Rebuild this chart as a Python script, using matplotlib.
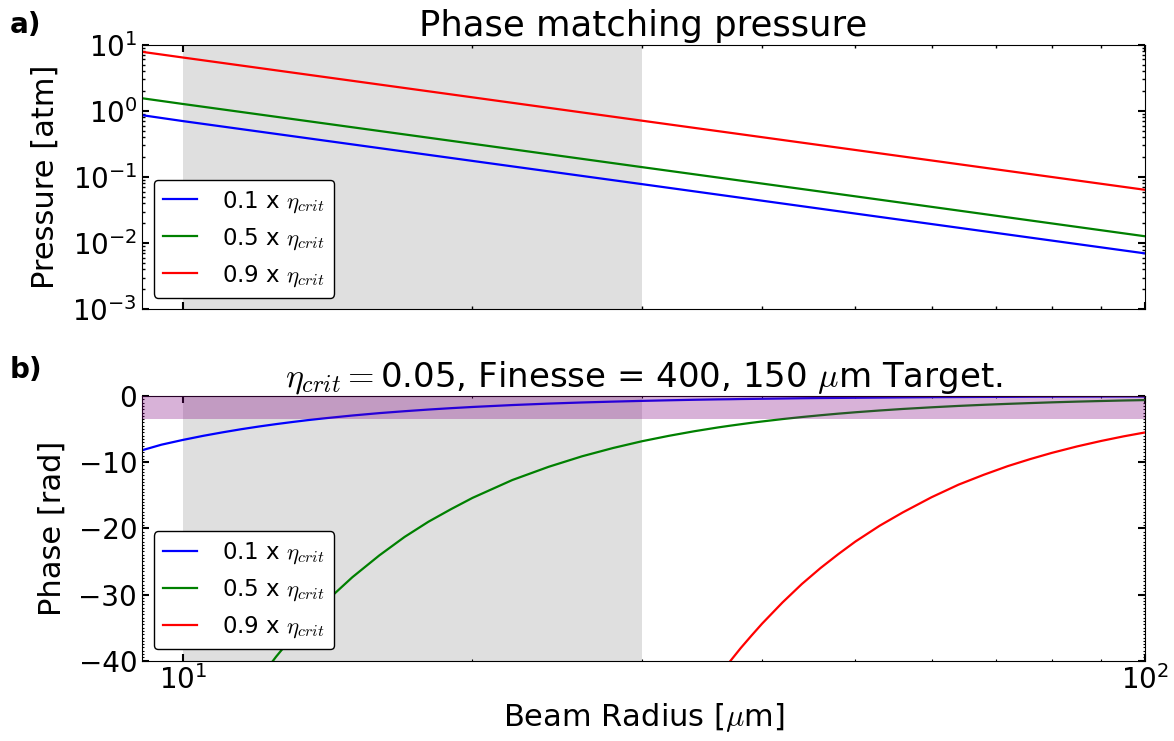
import numpy as np
import matplotlib
matplotlib.use("Agg")
import matplotlib.pyplot as plt
from matplotlib.ticker import LogLocator, MultipleLocator, FixedLocator, NullFormatter

plt.rcParams['font.family'] = 'DejaVu Sans'
plt.rcParams['mathtext.fontset'] = 'cm'
plt.rcParams['xtick.direction'] = 'in'
plt.rcParams['ytick.direction'] = 'in'
plt.rcParams['xtick.top'] = True
plt.rcParams['ytick.right'] = True
plt.rcParams['xtick.major.size'] = 5
plt.rcParams['ytick.major.size'] = 5
plt.rcParams['xtick.major.width'] = 1.5
plt.rcParams['ytick.major.width'] = 1.5
plt.rcParams['xtick.minor.size'] = 2.5
plt.rcParams['ytick.minor.size'] = 2.5
plt.rcParams['xtick.minor.width'] = 1
plt.rcParams['ytick.minor.width'] = 1

# Données
labels = ['0.1 x $\\eta_{crit}$', '0.5 x $\\eta_{crit}$', '0.9 x $\\eta_{crit}$']
colors = ['blue', 'green', 'red']

# a) pression d'accord de phase [atm]
radius_p = [9.07, 10, 20, 30, 50, 100]
pres_01 = [0.86, 0.70, 0.175, 0.078, 0.028, 0.0070]
pres_05 = [1.55, 1.27, 0.318, 0.141, 0.051, 0.0127]
pres_09 = [7.8, 6.4, 1.6, 0.71, 0.256, 0.064]

# b) phase [rad]
radius_ph = [9.07, 9.5, 10, 10.5, 11, 11.5, 12, 12.5, 13, 13.5, 14, 15, 16, 17,
             18, 19, 20, 22, 24, 26, 28, 30, 32, 34, 36, 37, 38, 39, 40, 42, 44,
             46, 48, 50, 53, 56, 60, 64, 68, 72, 76, 80, 85, 90, 95, 100]
phase_01 = [-8.2, -7.36, -6.64, -6.02, -5.49, -5.02, -4.61, -4.25, -3.93,
            -3.64, -3.39, -2.95, -2.59, -2.30, -2.05, -1.84, -1.66, -1.37,
            -1.15, -0.98, -0.85, -0.74, -0.65, -0.57, -0.51, -0.49, -0.46,
            -0.44, -0.42, -0.38, -0.34, -0.31, -0.29, -0.27, -0.24, -0.21,
            -0.18, -0.16, -0.14, -0.13, -0.11, -0.10, -0.09, -0.08, -0.07, -0.07]
phase_05 = [-74.9, -68.3, -61.6, -55.9, -50.9, -46.6, -42.8, -39.4, -36.4,
            -33.8, -31.4, -27.4, -24.1, -21.3, -19.0, -17.1, -15.4, -12.7,
            -10.7, -9.11, -7.86, -6.84, -6.02, -5.33, -4.75, -4.50, -4.27,
            -4.05, -3.85, -3.49, -3.18, -2.91, -2.67, -2.46, -2.19, -1.96,
            -1.71, -1.50, -1.33, -1.19, -1.07, -0.96, -0.85, -0.76, -0.68, -0.62]
phase_09 = [-669, -610, -551, -499, -455, -416, -382, -352, -326, -302, -281,
            -245, -215, -190, -170, -153, -138, -114, -95.6, -81.4, -70.2,
            -61.2, -53.8, -47.6, -42.5, -40.2, -38.1, -36.2, -34.4, -31.2,
            -28.4, -26.0, -23.9, -22.0, -19.6, -17.6, -15.3, -13.4, -11.9,
            -10.6, -9.53, -8.60, -7.62, -6.80, -6.10, -5.51]

target_zone = (10, 30)      # zone grisée
phase_band = (-3.5, 0)      # bande violette

fig = plt.figure(figsize=(11.74, 7.41), dpi=100)
ax1 = fig.add_axes([0.121, 0.5826, 0.8543, 0.3571])
ax2 = fig.add_axes([0.121, 0.1084, 0.8543, 0.3572], sharex=ax1)

leg_kw = dict(loc='lower left', fontsize=16.5, fancybox=True, edgecolor='black',
              framealpha=1, handlelength=1.5, handletextpad=1.1)

# --- a) pression
ax1.axvspan(*target_zone, color='grey', alpha=0.25, lw=0)
for y, c, lab in zip([pres_01, pres_05, pres_09], colors, labels):
    ax1.plot(radius_p, y, color=c, lw=1.6, label=lab)
ax1.set_xscale('log')
ax1.set_yscale('log')
ax1.set_xlim(9.07, 100)
ax1.set_ylim(1e-3, 1e1)
ax1.yaxis.set_major_locator(LogLocator(base=10, numticks=10))
ax1.yaxis.set_minor_locator(LogLocator(base=10, subs=np.arange(2, 10), numticks=10))
ax1.yaxis.set_minor_formatter(NullFormatter())
ax1.tick_params(labelbottom=False, labelsize=20)
ax1.set_ylabel('Pressure [atm]', fontsize=22)
ax1.yaxis.set_label_coords(-0.082, 0.5)
ax1.set_title('Phase matching pressure', fontsize=25.5)
ax1.legend(**leg_kw)

# --- b) phase
ax2.axvspan(*target_zone, color='grey', alpha=0.25, lw=0)
for y, c, lab in zip([phase_01, phase_05, phase_09], colors, labels):
    ax2.plot(radius_ph, y, color=c, lw=1.6, label=lab)
ax2.axhspan(*phase_band, color='purple', alpha=0.3, lw=0, zorder=3)
ax2.set_ylim(-40, 0)
ax2.yaxis.set_major_locator(MultipleLocator(10))
ax2.yaxis.set_minor_locator(MultipleLocator(0.5))
ax2.xaxis.set_minor_locator(FixedLocator(np.logspace(np.log10(9.07), 2, 330)))
ax2.xaxis.set_minor_formatter(NullFormatter())
ax2.tick_params(which='minor', length=1.5, width=0.8)
ax2.tick_params(which='major', labelsize=20)
ax2.set_ylabel('Phase [rad]', fontsize=22)
ax2.yaxis.set_label_coords(-0.075, 0.5)
ax2.set_xlabel('Beam Radius [$\\mu$m]', fontsize=22)
ax2.set_title('$\\eta_{crit}=$0.05, Finesse = 400, 150 $\\mu$m Target.', fontsize=24.5)
ax2.legend(**leg_kw)

# minor ticks de l'axe x du haut (20..90)
ax1.xaxis.set_minor_locator(LogLocator(base=10, subs=np.arange(2, 10), numticks=10))

fig.text(0.008, 0.985, 'a)', fontsize=20, fontweight='bold', va='top')
fig.text(0.008, 0.52, 'b)', fontsize=20, fontweight='bold', va='top')

fig.savefig('out.png', dpi=100)
